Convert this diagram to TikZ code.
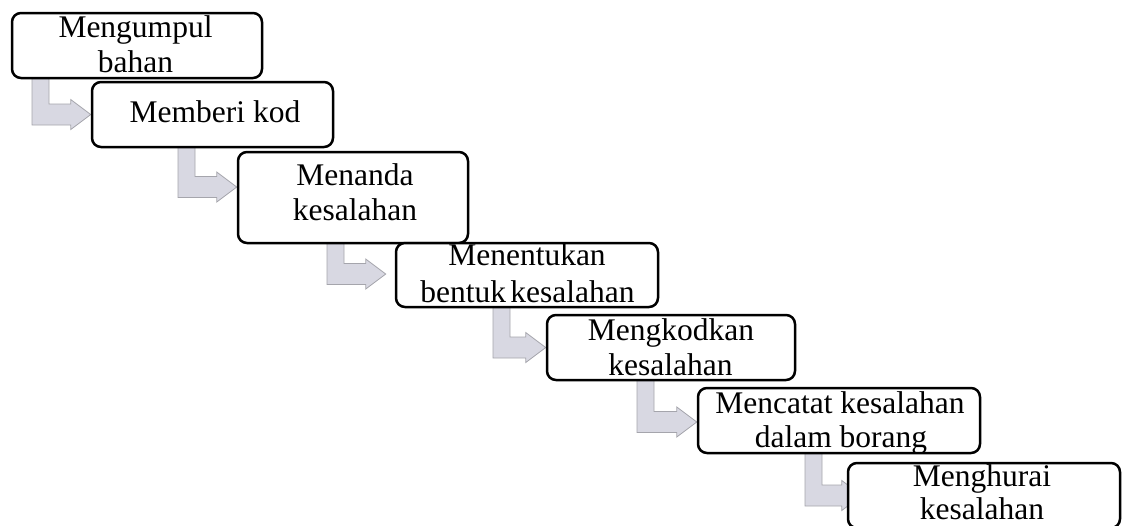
\documentclass[tikz,border=0pt]{standalone}
\usepackage{fontspec}
\setmainfont{Liberation Serif}
\usetikzlibrary{calc,backgrounds}
\definecolor{arrgray}{RGB}{216,216,226}
\definecolor{arredge}{RGB}{165,165,172}
\tikzset{
  stepbox/.style={draw=black, line width=2.5pt, rounded corners=9pt, fill=white, inner sep=0pt},
  lbl/.style={anchor=base, inner sep=0pt, font=\fontsize{31.5}{34}\selectfont},
  arrowfill/.style={fill=arrgray, draw=arredge, line width=0.8pt, line join=miter}
}
% #1 from node, #2 to node, #3 bar left x, #4 mid offset (image px, down positive), #5 tip gap
\newcommand\bentarr[5]{%
  \filldraw[arrowfill] let \p1=(#1.south), \p2=($(#2.west)+({-(#5)*1pt},{-(#4)*1pt})$) in
   (#3pt,\y1+2pt) -- (#3pt+17pt,\y1+2pt) -- (#3pt+17pt,\y2+10.5pt) -- (\x2-20pt,\y2+10.5pt)
   -- (\x2-20pt,\y2+15pt) -- (\x2,\y2) -- (\x2-20pt,\y2-15pt) -- (\x2-20pt,\y2-10.5pt)
   -- (#3pt,\y2-10.5pt) -- cycle;
}
\begin{document}
\begin{tikzpicture}[x=1pt,y=-1pt]
\useasboundingbox (0,0) rectangle (1127,525);
\clip (0,0) rectangle (1127,525);
% boxes
\node[stepbox, minimum width=250pt, minimum height=65pt] (b1) at (137,45.5) {};
\node[stepbox, minimum width=241pt, minimum height=65pt] (b2) at (212.5,114.5) {};
\node[stepbox, minimum width=230pt, minimum height=91pt] (b3) at (353,197.5) {};
\node[stepbox, minimum width=262pt, minimum height=64pt] (b4) at (527,275) {};
\node[stepbox, minimum width=248pt, minimum height=65pt] (b5) at (671,347.5) {};
\node[stepbox, minimum width=282pt, minimum height=65pt] (b6) at (839,420.5) {};
\node[stepbox, minimum width=272pt, minimum height=65pt] (b7) at (984,495.5) {};
% texts
\node[lbl] (t1a) at (135.5,37) {Mengumpul};
\node[lbl] (t1b) at (135.5,72) {bahan};
\node[lbl] (t2a) at (215,122) {Memberi kod};
\node[lbl] (t3a) at (355,185) {Menanda};
\node[lbl] (t3b) at (355,220) {kesalahan};
\node[lbl] (t4a) at (527,265) {Menentukan};
\node[lbl] (t4b) at (527.5,302) {bentuk\hspace{-0.12em} kesalahan};
\node[lbl] (t5a) at (671,340) {Mengkodkan};
\node[lbl] (t5b) at (670.5,375) {kesalahan};
\node[lbl] (t6a) at (840,413) {Mencatat kesalahan};
\node[lbl] (t6b) at (841,447) {dalam borang};
\node[lbl] (t7a) at (982,486) {Menghurai};
\node[lbl] (t7b) at (982,519) {kesalahan};
% bent arrows
\begin{pgfonlayer}{background}
\bentarr{b1}{b2}{32}{0}{0}
\bentarr{b2}{b3}{178}{-10.5}{0}
\bentarr{b3}{b4}{327}{-1}{9}
\bentarr{b4}{b5}{493}{0}{0}
\bentarr{b5}{b6}{637}{1.5}{0}
\bentarr{b6}{b7}{805}{0}{-15}
\end{pgfonlayer}
\end{tikzpicture}
\end{document}
